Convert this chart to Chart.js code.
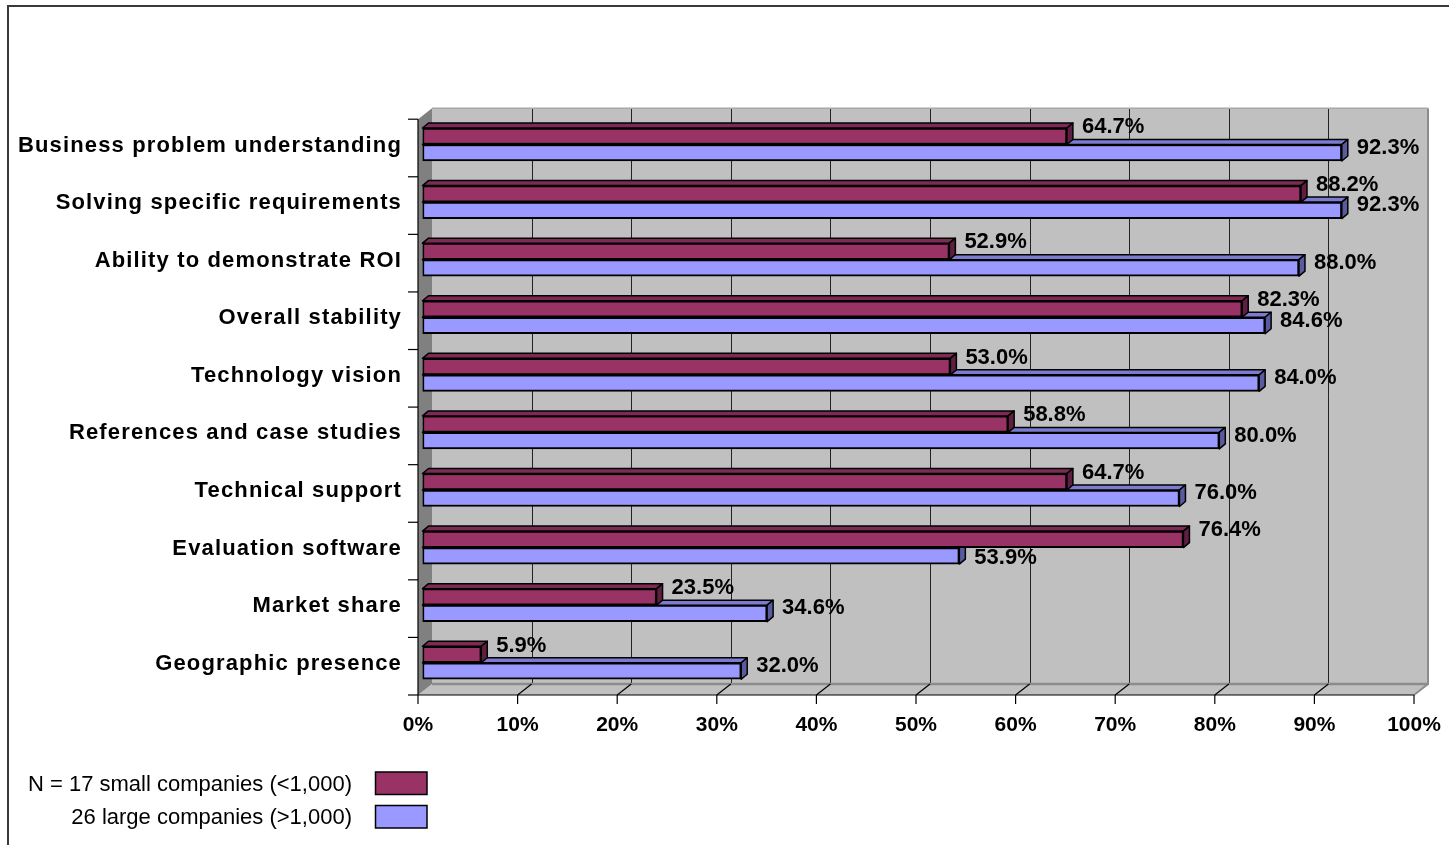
<!DOCTYPE html>
<html>
<head>
<meta charset="utf-8">
<title>Vendor selection criteria</title>
<script src="https://cdn.jsdelivr.net/npm/chart.js@4/dist/chart.umd.min.js"></script>
<style>
  html, body { margin: 0; padding: 0; background: #fff; }
  canvas { display: block; }
</style>
</head>
<body>
<canvas id="chart" width="1449" height="845"></canvas>
<script>
// ---- data ----
const categories = [
  'Business problem understanding',
  'Solving specific requirements',
  'Ability to demonstrate ROI',
  'Overall stability',
  'Technology vision',
  'References and case studies',
  'Technical support',
  'Evaluation software',
  'Market share',
  'Geographic presence'
];
const smallCompanies = [64.7, 88.2, 52.9, 82.3, 53.0, 58.8, 64.7, 76.4, 23.5, 5.9];
const largeCompanies = [92.3, 92.3, 88.0, 84.6, 84.0, 80.0, 76.0, 53.9, 34.6, 32.0];
const pctTicks = [0, 10, 20, 30, 40, 50, 60, 70, 80, 90, 100];
const seriesNames = ['N = 17 small companies (<1,000)', '26 large companies (>1,000)'];

// ---- look ----
const FONT = '"Liberation Sans", Arial, sans-serif';
const faces = [
  { front: '#993366', top: '#7d2a54', side: '#5e1f40' },
  { front: '#9999ff', top: '#7b7bd1', side: '#5a5a9e' }
];
const FRONT = { dx: -4.5, dy: 3.5 };   // front edge of the box vs. bar plane
const BACK = { dx: 9.5, dy: -7.5 };    // back wall vs. bar plane
const BAR_DEPTH = { dx: 6, dy: -5 };
const LABEL_DX = 15;
const LABEL_DY = [-9, -5];

const poly = (ctx, pts) => {
  ctx.beginPath();
  pts.forEach(([px, py], i) => i ? ctx.lineTo(px, py) : ctx.moveTo(px, py));
  ctx.closePath();
};

const line = (ctx, x1, y1, x2, y2) => {
  ctx.beginPath(); ctx.moveTo(x1, y1); ctx.lineTo(x2, y2); ctx.stroke();
};

// box: back wall, left wall, floor, axes
const box3d = {
  id: 'box3d',
  beforeDraw(chart) {
    const { ctx, width, height } = chart;
    ctx.save();
    ctx.fillStyle = '#fff';
    ctx.fillRect(0, 0, width, height);
    ctx.strokeStyle = '#3a3a3a';
    ctx.lineWidth = 2;
    ctx.beginPath();
    ctx.moveTo(8, height); ctx.lineTo(8, 6); ctx.lineTo(width, 6);
    ctx.stroke();
    ctx.restore();
  },
  beforeDatasetsDraw(chart) {
    const { ctx, chartArea: a, scales: { x } } = chart;
    const fL = a.left + FRONT.dx, fR = a.right + FRONT.dx, fT = a.top + FRONT.dy, fB = a.bottom + FRONT.dy;
    const bL = a.left + BACK.dx, bR = a.right + BACK.dx, bT = a.top + BACK.dy, bB = a.bottom + BACK.dy;
    ctx.save();

    ctx.fillStyle = '#c0c0c0';
    ctx.fillRect(bL, bT, bR - bL, bB - bT);
    poly(ctx, [[fL, fB], [bL, bB], [bR, bB], [fR, fB]]);
    ctx.fill();
    ctx.fillStyle = '#808080';
    poly(ctx, [[fL, fT], [bL, bT], [bL, bB], [fL, fB]]);
    ctx.fill();

    // gridlines on the back wall
    ctx.strokeStyle = '#222';
    ctx.lineWidth = 1;
    pctTicks.slice(1, -1).forEach(v => {
      const px = Math.round(x.getPixelForValue(v) + BACK.dx) + 0.5;
      line(ctx, px, bT, px, bB);
    });

    // wall edges
    ctx.strokeStyle = '#8c8c8c';
    ctx.lineWidth = 2.5;
    line(ctx, bL, bB, bR, bB);
    ctx.lineWidth = 2;
    line(ctx, bR, bT, bR, bB + 1);
    line(ctx, fR, fB, bR, bB);
    ctx.strokeStyle = '#a8a8a8';
    ctx.lineWidth = 1.5;
    line(ctx, bL, bT, bR, bT);

    // value axis along the floor front
    ctx.strokeStyle = '#000';
    ctx.lineWidth = 1.2;
    line(ctx, fL, fB, fR, fB);
    pctTicks.forEach(v => {
      const px = x.getPixelForValue(v) + FRONT.dx;
      line(ctx, px, fB, px, fB + 9);
      if (v > 0 && v < 100) line(ctx, px, fB, px + (BACK.dx - FRONT.dx), fB + (BACK.dy - FRONT.dy));
    });

    // category axis
    line(ctx, fL, fT, fL, fB);
    const band = (a.bottom - a.top) / categories.length;
    for (let k = 0; k <= categories.length; k++) {
      const py = a.top + k * band + FRONT.dy;
      line(ctx, fL - 10, py, fL, py);
    }
    ctx.restore();
  },
  afterDatasetDraw(chart, args) {
    const { ctx } = chart;
    const f = faces[args.index];
    ctx.save();
    ctx.strokeStyle = '#000';
    ctx.lineWidth = 1.5;
    ctx.lineJoin = 'round';
    args.meta.data.forEach(el => {
      const { x: xe, y: yc, base, height } = el.getProps(['x', 'y', 'base', 'height'], true);
      const top = yc - height / 2, bot = yc + height / 2;
      const { dx, dy } = BAR_DEPTH;
      poly(ctx, [[base, top], [xe, top], [xe + dx, top + dy], [base + dx, top + dy]]);
      ctx.fillStyle = f.top; ctx.fill(); ctx.stroke();
      poly(ctx, [[xe, top], [xe, bot], [xe + dx, bot + dy], [xe + dx, top + dy]]);
      ctx.fillStyle = f.side; ctx.fill(); ctx.stroke();
    });
    ctx.restore();
  },
  afterDraw(chart) {
    const { ctx, chartArea: a, scales: { x, y } } = chart;
    const fL = a.left + FRONT.dx, fB = a.bottom + FRONT.dy;
    ctx.save();
    ctx.fillStyle = '#000';
    ctx.textBaseline = 'middle';

    // category names
    ctx.font = 'bold 22px ' + FONT;
    ctx.textAlign = 'right';
    ctx.letterSpacing = '1.15px';
    categories.forEach((c, i) => ctx.fillText(c, fL - 16, y.getPixelForTick(i) + 1));
    ctx.letterSpacing = '0px';

    // percent ticks
    ctx.font = 'bold 21px ' + FONT;
    ctx.textAlign = 'center';
    pctTicks.forEach(v => ctx.fillText(v + '%', x.getPixelForValue(v) + FRONT.dx, fB + 30));

    // value labels; a large-company label drops below when the small bar runs past it
    ctx.font = 'bold 22px ' + FONT;
    ctx.textAlign = 'left';
    const small = chart.getDatasetMeta(0).data;
    chart.data.datasets.forEach((ds, di) => {
      chart.getDatasetMeta(di).data.forEach((el, i) => {
        const lx = el.x + LABEL_DX;
        let dy = LABEL_DY[di];
        if (di === 1 && small[i].x + BAR_DEPTH.dx > lx) dy = 2;
        ctx.fillText(ds.data[i].toFixed(1) + '%', lx, el.y + dy);
      });
    });

    // legend
    ctx.font = '22px ' + FONT;
    ctx.textAlign = 'right';
    ctx.textBaseline = 'alphabetic';
    ctx.strokeStyle = '#000';
    ctx.lineWidth = 1.5;
    seriesNames.forEach((name, i) => {
      const top = 772 + i * 33.5;
      ctx.fillStyle = '#000';
      ctx.fillText(name, 352, top + 18.5);
      ctx.fillStyle = faces[i].front;
      ctx.fillRect(375.5, top, 51.5, 22.5);
      ctx.strokeRect(375.5, top, 51.5, 22.5);
    });
    ctx.restore();
  }
};

new Chart(document.getElementById('chart'), {
  type: 'bar',
  data: {
    labels: categories,
    datasets: [
      { label: seriesNames[0], data: smallCompanies, backgroundColor: faces[0].front },
      { label: seriesNames[1], data: largeCompanies, backgroundColor: faces[1].front }
    ]
  },
  options: {
    indexAxis: 'y',
    responsive: false,
    animation: false,
    layout: { padding: { left: 422.5, right: 30.5, top: 115.7, bottom: 153.5 } },
    datasets: { bar: { barThickness: 16.5, borderWidth: 2, borderColor: '#000', borderSkipped: false } },
    scales: {
      x: { display: false, min: 0, max: 100 },
      y: { display: false }
    },
    plugins: { legend: { display: false }, tooltip: { enabled: false } }
  },
  plugins: [box3d]
});
</script>
</body>
</html>
